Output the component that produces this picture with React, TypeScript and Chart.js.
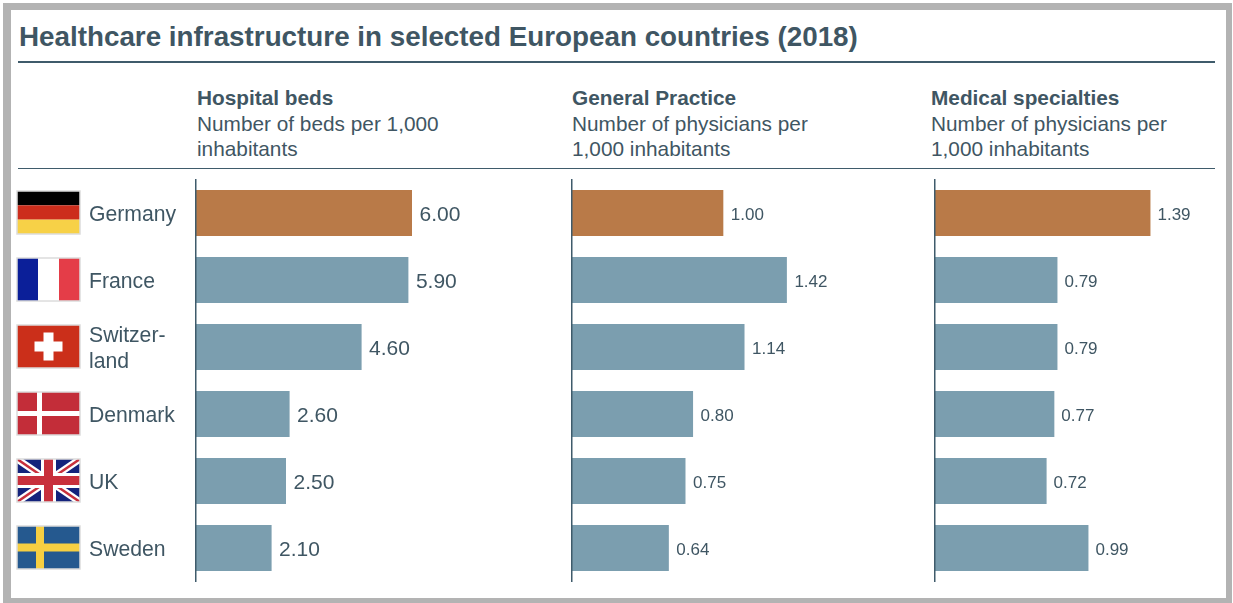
import React, { useEffect, useRef } from "react";
import { Chart, registerables } from "chart.js";

Chart.register(...registerables);

const chartTitle = "Healthcare infrastructure in selected European countries (2018)";
const countryLabels: (string | string[])[] = ["Germany", "France", ["Switzer-", "land"], "Denmark", "UK", "Sweden"];
const flagCodes = ["de", "fr", "ch", "dk", "uk", "se"];

const hospitalBeds = [6.0, 5.9, 4.6, 2.6, 2.5, 2.1];
const generalPractice = [1.0, 1.42, 1.14, 0.8, 0.75, 0.64];
const medicalSpecialties = [1.39, 0.79, 0.79, 0.77, 0.72, 0.99];

const INK = "#3f5663";
const RULE = "#3f5b6b";
const FONT = "'Liberation Sans', Arial, sans-serif";
const BAR_BLUE = "#7b9eaf";
const BAR_ORANGE = "#b97a48";

type Ctx = CanvasRenderingContext2D;

// Paints one flag into the box (x, y, w, h) with a pale outline.
function drawFlag(ctx: Ctx, code: string, x: number, y: number, w: number, h: number) {
  const rect = (c: string, rx: number, ry: number, rw: number, rh: number) => {
    ctx.fillStyle = c;
    ctx.fillRect(x + rx, y + ry, rw, rh);
  };
  ctx.save();
  ctx.beginPath();
  ctx.rect(x, y, w, h);
  ctx.clip();
  if (code === "de") {
    rect("#000000", 0, 0, w, h / 3);
    rect("#cc2d1c", 0, h / 3, w, h / 3);
    rect("#f7d147", 0, (2 * h) / 3, w, h / 3);
  } else if (code === "fr") {
    rect("#0b1f99", 0, 0, w / 3, h);
    rect("#ffffff", w / 3, 0, w / 3, h);
    rect("#e43d48", (2 * w) / 3, 0, w / 3, h);
  } else if (code === "ch") {
    rect("#cb2f1a", 0, 0, w, h);
    rect("#ffffff", w / 2 - 14, h / 2 - 5, 28, 10);
    rect("#ffffff", w / 2 - 5, h / 2 - 14, 10, 28);
  } else if (code === "dk") {
    rect("#c32d39", 0, 0, w, h);
    rect("#ffffff", 0, h / 2 - 2.5, w, 5);
    rect("#ffffff", 20, 0, 5, h);
  } else if (code === "se") {
    rect("#25598f", 0, 0, w, h);
    rect("#f6cf42", 0, h / 2 - 4, w, 8);
    rect("#f6cf42", 19, 0, 8, h);
  } else if (code === "uk") {
    rect("#14237c", 0, 0, w, h);
    const stroke = (c: string, lw: number, pts: number[]) => {
      ctx.strokeStyle = c;
      ctx.lineWidth = lw;
      ctx.beginPath();
      ctx.moveTo(x + pts[0], y + pts[1]);
      ctx.lineTo(x + pts[2], y + pts[3]);
      ctx.stroke();
    };
    stroke("#ffffff", 7, [0, 0, w, h]);
    stroke("#ffffff", 7, [0, h, w, 0]);
    stroke("#c8303c", 2.5, [0, 0, w, h]);
    stroke("#c8303c", 2.5, [0, h, w, 0]);
    rect("#ffffff", w / 2 - 7.5, 0, 15, h);
    rect("#ffffff", 0, h / 2 - 7.5, w, 15);
    rect("#c8303c", w / 2 - 4.5, 0, 9, h);
    rect("#c8303c", 0, h / 2 - 4.5, w, 9);
  }
  ctx.restore();
  ctx.strokeStyle = "#dcdcdc";
  ctx.lineWidth = 1.5;
  ctx.strokeRect(x, y, w, h);
}

// Writes each bar's value just past its end.
const valueLabels = {
  id: "valueLabels",
  afterDatasetsDraw(chart: any, _a: any, opts: any) {
    const { ctx } = chart;
    const meta = chart.getDatasetMeta(0);
    const values = chart.data.datasets[0].data as number[];
    ctx.save();
    ctx.font = `${opts.size}px ${FONT}`;
    ctx.fillStyle = INK;
    ctx.textAlign = "left";
    ctx.textBaseline = "middle";
    meta.data.forEach((bar: any, i: number) => {
      ctx.fillText(values[i].toFixed(2), bar.x + opts.gap, bar.y + 2);
    });
    ctx.restore();
  },
};

// Puts the flag beside each country name on the first panel.
const flagColumn = {
  id: "flagColumn",
  afterDraw(chart: any, _a: any, opts: any) {
    if (!opts.show) return;
    const y = chart.scales.y;
    flagCodes.forEach((code, i) => {
      drawFlag(chart.ctx, code, 17, y.getPixelForTick(i) - 22, 63, 43);
    });
  },
};

interface PanelProps {
  values: number[];
  left: number;
  width: number;
  axisWidth: number;
  axisMax: number;
  labelSize: number;
  labelGap: number;
  showCountries: boolean;
}

function Panel({ values, left, width, axisWidth, axisMax, labelSize, labelGap, showCountries }: PanelProps) {
  const ref = useRef<HTMLCanvasElement>(null);
  useEffect(() => {
    const chart = new Chart(ref.current as HTMLCanvasElement, {
      type: "bar",
      plugins: [valueLabels, flagColumn],
      data: {
        labels: countryLabels,
        datasets: [
          {
            data: values,
            backgroundColor: values.map((_, i) => (i === 0 ? BAR_ORANGE : BAR_BLUE)),
            barPercentage: 46 / 67,
            categoryPercentage: 1,
          },
        ],
      },
      options: {
        indexAxis: "y",
        animation: false,
        responsive: false,
        layout: { padding: { left: showCountries ? 89 : 0, right: 0, top: 9.5, bottom: 8.5 } },
        plugins: {
          legend: { display: false },
          tooltip: { enabled: false },
          title: { display: false },
          valueLabels: { size: labelSize, gap: labelGap },
          flagColumn: { show: showCountries },
        } as any,
        scales: {
          x: { display: false, min: 0, max: axisMax },
          y: {
            grid: { display: false, drawTicks: false },
            border: { display: true, color: RULE, width: 1.5, z: 2 },
            afterFit: (axis: any) => {
              axis.width = axisWidth;
              axis.paddingTop = 0;
              axis.paddingBottom = 0;
            },
            ticks: {
              display: showCountries,
              crossAlign: "far",
              padding: 0,
              labelOffset: 2,
              autoSkip: false,
              color: INK,
              font: { family: FONT, size: 21.2, lineHeight: 1.2 },
            },
          },
        },
      },
    } as any);
    return () => chart.destroy();
  }, []);
  return (
    <canvas
      ref={ref}
      width={width}
      height={420}
      style={{ position: "absolute", left, top: 170, width, height: 420 }}
    />
  );
}

const panelHeadings = ["Hospital beds", "General Practice", "Medical specialties"];
const panelNotes = [
  ["Number of beds per 1,000", "inhabitants"],
  ["Number of physicians per", "1,000 inhabitants"],
  ["Number of physicians per", "1,000 inhabitants"],
];
const headingLefts = [197, 572, 931];

export default function App() {
  return (
    <div
      style={{
        position: "absolute",
        left: 0,
        top: 0,
        width: 1233,
        height: 603,
        overflow: "hidden",
        background: "#ffffff",
        fontFamily: FONT,
        color: INK,
      }}
    >
      <div
        style={{
          position: "absolute",
          left: 3,
          top: 3,
          width: 1229,
          height: 600,
          boxSizing: "border-box",
          borderStyle: "solid",
          borderColor: "#b3b3b3",
          borderWidth: "7px 6px 5px 8px",
        }}
      />
      <div
        style={{
          position: "absolute",
          left: 19,
          top: 20.5,
          fontSize: 27.8,
          lineHeight: "32px",
          fontWeight: 700,
          whiteSpace: "nowrap",
        }}
      >
        {chartTitle}
      </div>
      <div style={{ position: "absolute", left: 18, top: 61, width: 1197, height: 2, background: RULE }} />
      <div style={{ position: "absolute", left: 18, top: 167.5, width: 1197, height: 1.5, background: RULE }} />
      {panelHeadings.map((heading, i) => (
        <div
          key={heading}
          style={{
            position: "absolute",
            left: headingLefts[i],
            top: 85,
            fontSize: 20.8,
            lineHeight: "25.5px",
            whiteSpace: "nowrap",
          }}
        >
          <div style={{ fontWeight: 700 }}>{heading}</div>
          {panelNotes[i].map((line) => (
            <div key={line}>{line}</div>
          ))}
        </div>
      ))}
      <Panel values={hospitalBeds} left={0} width={556} axisWidth={107} axisMax={10} labelSize={21} labelGap={7.5} showCountries />
      <Panel values={generalPractice} left={560} width={354} axisWidth={12} axisMax={2.26} labelSize={17} labelGap={7.5} showCountries={false} />
      <Panel values={medicalSpecialties} left={920} width={294} axisWidth={15} axisMax={1.8} labelSize={17} labelGap={7} showCountries={false} />
    </div>
  );
}
